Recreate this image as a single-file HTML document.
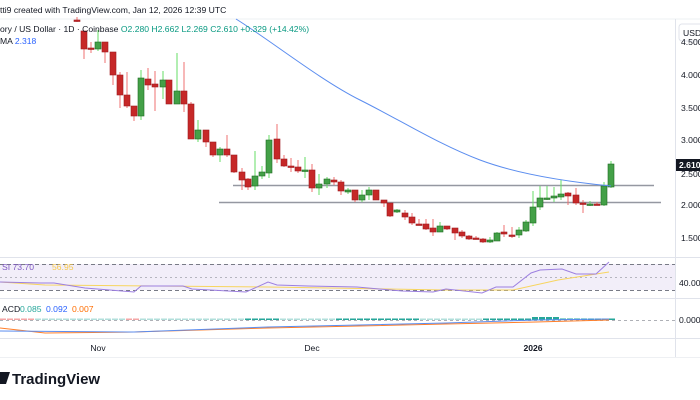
<!DOCTYPE html>
<html><head><meta charset="utf-8"><style>
html,body{margin:0;padding:0;background:#fff;width:700px;height:400px;overflow:hidden;font-family:"Liberation Sans",sans-serif}
</style></head><body>
<svg id="s" width="700" height="400" xmlns="http://www.w3.org/2000/svg" font-family="Liberation Sans, sans-serif">
<rect width="700" height="400" fill="#fff"/>
<text x="0" y="13" font-size="8.6" fill="#131722">tti9 created with TradingView.com, Jan 12, 2026 12:39 UTC</text>
<line x1="0" y1="19" x2="700" y2="19" stroke="#eef0f3"/>
<line x1="675.5" y1="19" x2="675.5" y2="357" stroke="#e0e3eb"/>
<line x1="0" y1="257.5" x2="700" y2="257.5" stroke="#e0e3eb"/>
<line x1="0" y1="298.5" x2="700" y2="298.5" stroke="#e0e3eb"/>
<line x1="0" y1="338.5" x2="700" y2="338.5" stroke="#e0e3eb"/>
<line x1="0" y1="357.5" x2="700" y2="357.5" stroke="#eef0f3"/>
<rect x="0" y="264" width="675" height="26" fill="#7e57c2" fill-opacity="0.1"/>
<line x1="0" y1="264.5" x2="675" y2="264.5" stroke="#787b86" stroke-dasharray="4,3"/>
<line x1="0" y1="277.5" x2="675" y2="277.5" stroke="#787b86" stroke-opacity="0.5" stroke-dasharray="2,3"/>
<line x1="0" y1="290.5" x2="675" y2="290.5" stroke="#787b86" stroke-dasharray="4,3"/>
<polyline fill="none" stroke="#f7d560" stroke-width="1" points="0,282 45,285 268,287 446,290 513,290 558,280 609,272"/>
<polyline fill="none" stroke="#9c7fe0" stroke-width="1" points="0,282 40,283 54,283 85,288 134,292 141,286 183,286 192,289 246,292 268,282 277,285 308,286 357,287 402,291 433,292 446,289 482,293 496,287 513,287 531,273 540,270 562,269 576,274 596,274 609,262"/>
<text x="2" y="270" font-size="8.6" fill="#7e57c2">SI  73.70</text>
<text x="52" y="270" font-size="8.6" fill="#f7c948">56.95</text>
<text x="679" y="286" font-size="8.6" fill="#131722">40.00</text>
<line x1="0" y1="320.5" x2="675" y2="320.5" stroke="#787b86" stroke-opacity="0.6" stroke-dasharray="3,3"/>
<g id="hist"></g>
<polyline fill="none" stroke="#ff7f2a" stroke-width="1" points="0,328 45,333 134,332 268,328 446,324 536,322 609,320"/>
<polyline fill="none" stroke="#5b8def" stroke-width="1" points="0,331 134,332 268,327 446,323 536,320 609,319"/>
<text x="2" y="312" font-size="8.6" fill="#131722">ACD</text>
<text x="20" y="312" font-size="8.6" fill="#26a69a">0.085</text>
<text x="46" y="312" font-size="8.6" fill="#2962ff">0.092</text>
<text x="72" y="312" font-size="8.6" fill="#ff6d00">0.007</text>
<text x="679" y="323" font-size="8.6" fill="#131722">0.000</text>
<text x="98" y="351" font-size="8.6" fill="#131722" text-anchor="middle">Nov</text>
<text x="312" y="351" font-size="8.6" fill="#131722" text-anchor="middle">Dec</text>
<text x="533" y="351" font-size="8.6" fill="#131722" text-anchor="middle" font-weight="bold">2026</text>
<rect x="679" y="24" width="30" height="17" rx="3" fill="#fff" stroke="#e0e3eb"/>
<text x="683" y="36" font-size="8.6" fill="#131722">USD</text>
<text x="681" y="45" font-size="8.6" fill="#131722">4.500</text>
<text x="681" y="78" font-size="8.6" fill="#131722">4.000</text>
<text x="681" y="111" font-size="8.6" fill="#131722">3.500</text>
<text x="681" y="143" font-size="8.6" fill="#131722">3.000</text>
<text x="681" y="177" font-size="8.6" fill="#131722">2.500</text>
<text x="681" y="208" font-size="8.6" fill="#131722">2.000</text>
<text x="681" y="241" font-size="8.6" fill="#131722">1.500</text>
<rect x="676" y="159" width="24" height="12" fill="#131722"/>
<text x="679" y="168" font-size="8.6" font-weight="bold" fill="#fff">2.610</text>
<line x1="233" y1="185.5" x2="654" y2="185.5" stroke="#9598a1" stroke-width="1.5"/>
<line x1="219" y1="202.5" x2="661" y2="202.5" stroke="#9598a1" stroke-width="1.5"/>
<g id="c"></g>
<path fill="none" stroke="#5b8def" stroke-width="1" d="M236,19 C270,40 320,80 360,100 C400,120 440,145 480,160 C520,175 570,182 611,186"/>
<text x="0" y="32" font-size="8.6" fill="#131722">ory / US Dollar · 1D · Coinbase  <tspan fill="#089981">O2.280  H2.662  L2.269  C2.610  +0.329 (+14.42%)</tspan></text>
<text x="0" y="44" font-size="8.6" fill="#131722">MA <tspan fill="#2962ff">2.318</tspan></text>
<path d="M0,372 h5 l-2,12 h-4z M5,372 h5 l-4,12 h-3z" fill="#131722"/>
<text x="12" y="384" font-size="15" font-weight="bold" fill="#131722">TradingView</text>
</svg>
<script>
var d=[[77,20,20,17,22,0],[84,31,49,31,59,0],[91,48,48,42,53,0],[98,49,42,30,51,1],[105,42,52,42,63,0],[113,52,75,52,85,0],[120,75,95,72,108,0],[127,95,106,72,108,0],[134,106,116,106,121,0],[141,116,78,70,120,1],[148,79,85,68,90,0],[155,84,87,71,111,0],[163,87,80,71,99,1],[169,80,104,80,104,0],[177,104,91,53,104,1],[184,91,104,62,112,0],[191,104,139,102,139,0],[198,139,130,120,142,1],[206,130,142,130,147,0],[213,142,155,142,157,0],[220,155,149,147,162,1],[227,149,155,135,157,0],[234,155,172,155,173,0],[242,172,180,168,190,0],[248,179,187,178,190,0],[255,186,176,151,190,1],[262,176,172,166,179,1],[269,173,140,135,178,1],[277,139,159,124,163,0],[284,159,166,155,167,0],[291,166,167,158,172,0],[298,167,171,160,173,0],[305,170,170,157,178,1],[312,170,188,164,192,0],[319,188,184,174,195,1],[327,184,179,177,188,1],[334,180,182,177,185,0],[341,182,191,180,195,0],[348,192,190,188,194,1],[355,190,200,190,202,0],[362,200,195,190,202,1],[369,195,190,187,200,1],[376,190,200,190,200,0],[384,200,203,200,207,0],[390,203,216,203,217,0],[397,212,210,209,213,1],[405,213,217,210,220,0],[412,217,223,213,225,0],[419,224,224,219,225,0],[426,224,229,219,230,0],[433,228,232,219,236,0],[440,232,226,222,232,1],[447,226,229,226,230,0],[455,228,233,228,240,0],[462,232,236,230,238,0],[469,236,239,235,240,0],[476,238,238,236,239,0],[483,239,242,238,243,0],[490,242,240,237,243,1],[497,241,233,232,241,1],[504,232,234,225,237,0],[512,235,235,227,238,0],[519,235,230,227,238,1],[526,231,222,220,232,1],[533,223,207,191,226,1],[540,207,198,186,210,1],[547,198,198,186,200,1],[554,198,196,187,202,1],[561,197,194,180,200,1],[568,193,196,192,205,0],[576,195,203,188,205,0],[583,203,203,200,213,0],[590,204,204,201,206,1],[597,204,204,202,205,0],[604,205,186,182,206,1],[611,187,164,161,188,1]];
var g=document.getElementById('c'),h='';
d.forEach(function(c){var x=c[0],t=Math.min(c[1],c[2]),b=Math.max(c[1],c[2]);if(b-t<1.5){b=t+1.5;}
var up=c[5],fc=up?'#43a047':'#c62828',wc=up?'#66dd66':'#ef7070',sc=up?'#1e6b22':'#a0191f';
h+='<line x1="'+x+'" y1="'+c[3]+'" x2="'+x+'" y2="'+c[4]+'" stroke="'+wc+'" stroke-width="1"/>';
h+='<rect x="'+(x-3)+'" y="'+t+'" width="6" height="'+(b-t)+'" fill="'+fc+'" stroke="'+sc+'" stroke-width="0.6"/>';});
g.innerHTML=h;
var hs='';for(var x=0;x<612;x+=7){var up=(x>240&&x<280)||(x>330&&x<420)||(x>480);var col=(x<30||(x>120&&x<140))?'#f4a6a6':(up?'#26a69a':'#b2dfdb');var hh=(x>530&&x<560)?3:1.5;hs+='<rect x="'+x+'" y="'+(320-hh)+'" width="6" height="'+hh+'" fill="'+col+'"/>';}
document.getElementById('hist').innerHTML=hs;
</script>
</body></html>
